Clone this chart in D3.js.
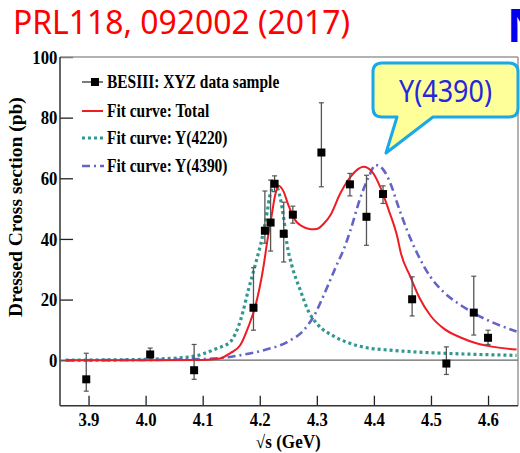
<!DOCTYPE html>
<html><head><meta charset="utf-8">
<script src="https://cdn.jsdelivr.net/npm/d3@7"></script>
<style>
html,body{margin:0;padding:0;background:#fff;overflow:hidden;}
svg{display:block;}
</style></head>
<body>
<svg id="chart" width="520" height="453"></svg>
<script>
// ---- data ----
const energy  = [3.896, 4.008, 4.085, 4.189, 4.209, 4.219, 4.226, 4.242, 4.258, 4.308, 4.358, 4.387, 4.416, 4.467, 4.527, 4.575, 4.600];
const xsec    = [-6.3, 1.9, -3.3, 17.3, 42.7, 45.4, 58.2, 41.7, 48.0, 68.5, 58.0, 47.3, 54.8, 20.1, -1.1, 15.7, 7.4];
const errHigh = [8.6, 2.1, 8.5, 13.2, 13.1, 14.0, 2.6, 10.4, 2.8, 16.4, 3.6, 13.7, 2.7, 7.4, 5.5, 12.0, 2.5];
const errLow  = [3.9, 1.2, 3.0, 7.4, 4.1, 9.4, 2.6, 9.3, 2.8, 11.3, 3.8, 9.4, 3.1, 5.5, 3.6, 7.4, 2.2];

const totalE = [3.86, 4.0, 4.1, 4.13, 4.148, 4.166, 4.18, 4.192, 4.207, 4.213, 4.221, 4.227, 4.233, 4.242, 4.25, 4.262, 4.274, 4.289, 4.300, 4.312, 4.324, 4.341, 4.359, 4.382, 4.397, 4.411, 4.426, 4.441, 4.447, 4.464, 4.48, 4.5, 4.522, 4.552, 4.581, 4.61, 4.65];
const totalV = [0, 0, 0.1, 0.6, 2.3, 5.0, 11.0, 17.6, 31.4, 39.0, 47.9, 54.5, 57.5, 55.5, 51.2, 46.2, 44.2, 43.2, 43.3, 45.0, 47.9, 55.0, 60.5, 63.8, 62.1, 57.2, 49.5, 40.7, 35.5, 27.5, 20.5, 14.5, 10.5, 7.5, 5.5, 4.4, 3.5];

const y4220E = [3.86, 4.0, 4.078, 4.125, 4.148, 4.166, 4.18, 4.192, 4.204, 4.213, 4.218, 4.227, 4.236, 4.242, 4.248, 4.256, 4.271, 4.286, 4.3, 4.33, 4.359, 4.388, 4.429, 4.476, 4.55, 4.65];
const y4220V = [0, 0.3, 1.1, 3.9, 6.0, 13.0, 23.1, 31.4, 40.2, 48.9, 54.5, 57.8, 53.4, 46.8, 38.0, 31.4, 23.1, 15.9, 12.1, 7.9, 5.5, 4.1, 3.3, 2.7, 2.1, 1.6];

const y4390E = [3.86, 4.0, 4.1, 4.137, 4.166, 4.207, 4.248, 4.277, 4.294, 4.318, 4.335, 4.347, 4.359, 4.376, 4.391, 4.403, 4.417, 4.429, 4.443, 4.458, 4.476, 4.499, 4.522, 4.552, 4.581, 4.61, 4.65];
const y4390V = [0, 0.1, 0.4, 0.8, 1.65, 3.3, 6.0, 9.9, 14.3, 24.0, 31.5, 36.5, 42.9, 53.4, 60.5, 64.4, 62.7, 58.3, 50.6, 42.9, 35.2, 27.5, 22.5, 18.2, 14.9, 12.3, 9.5];

const xTicks = [3.9, 4.0, 4.1, 4.2, 4.3, 4.4, 4.5, 4.6];
const yTicks = [0, 20, 40, 60, 80, 100];
const legendLabels = ["BESIII: XYZ data sample", "Fit curve: Total", "Fit curve: Y(4220)", "Fit curve: Y(4390)"];
const titleText = "PRL118, 092002 (2017)";
const calloutText = "Y(4390)";

// ---- drawing ----
const svg = d3.select("#chart");
const x = d3.scaleLinear().domain([3.85, 4.6525]).range([60, 518]);
const y = d3.scaleLinear().domain([-15, 100]).range([405.7, 57]);
const serif = "'Liberation Serif','Times New Roman',serif";
const SX = 0.88;

const colRed = "#ee1c24", colTeal = "#30988f", colBlue = "#6363c8";

// title
svg.append("text").attr("x", 13).attr("y", 34)
  .attr("font-family", "'Noto Sans','Open Sans',sans-serif").attr("font-size", 33)
  .attr("fill", "#ff0000").attr("textLength", 337).attr("lengthAdjust", "spacingAndGlyphs")
  .text(titleText);
svg.append("text").attr("x", 507).attr("y", 42)
  .attr("font-family", "'Noto Sans',sans-serif").attr("font-size", 46).attr("font-weight", "bold")
  .attr("fill", "#0000ee").text("N");

// minor ticks
const xMinor = d3.range(3.86, 4.65, 0.02).filter(v => xTicks.every(t => Math.abs(t - v) > 1e-6));
const yMinor = d3.range(-15, 100.1, 5).filter(v => yTicks.every(t => Math.abs(t - v) > 1e-6));

const gx = svg.append("g").attr("transform", `translate(0,${y(-15)})`);
gx.call(d3.axisBottom(x).tickValues(xMinor).tickSize(-5).tickFormat(""));
gx.call(d3.axisBottom(x).tickValues(xTicks).tickSize(-10).tickPadding(7).tickFormat(d3.format(".1f")));
gx.selectAll(".domain").remove();
gx.selectAll("line").attr("stroke", "#222").attr("stroke-width", 1.3);
gx.selectAll("text").attr("font-family", serif).attr("font-weight", "bold").attr("font-size", 19)
  .attr("fill", "#000").attr("transform", `scale(${SX},1)`);

const gy = svg.append("g").attr("transform", `translate(${x(3.85)},0)`);
gy.call(d3.axisLeft(y).tickValues(yMinor).tickSize(-7).tickFormat(""));
gy.call(d3.axisLeft(y).tickValues(yTicks).tickSize(-13).tickPadding(3).tickFormat(d3.format("d")));
gy.selectAll(".domain").remove();
gy.selectAll("line").attr("stroke", "#222").attr("stroke-width", 1.3);
gy.selectAll("text").attr("font-family", serif).attr("font-weight", "bold").attr("font-size", 19)
  .attr("fill", "#000").attr("transform", `scale(${SX},1)`);

// frame
const X0 = x.range()[0], X1 = x.range()[1], Y0 = y.range()[0], Y1 = y.range()[1];
svg.append("line").attr("x1", X0).attr("x2", X1).attr("y1", Y1).attr("y2", Y1).attr("stroke", "#999").attr("stroke-width", 1.5);
svg.append("line").attr("x1", X1).attr("x2", X1).attr("y1", Y1).attr("y2", Y0).attr("stroke", "#999").attr("stroke-width", 1.5);
svg.append("line").attr("x1", X0).attr("x2", X0).attr("y1", Y1).attr("y2", Y0).attr("stroke", "#333").attr("stroke-width", 1.5);
svg.append("line").attr("x1", X0).attr("x2", X1).attr("y1", Y0).attr("y2", Y0).attr("stroke", "#333").attr("stroke-width", 1.5);
// zero line
svg.append("line").attr("x1", X0).attr("x2", X1).attr("y1", y(0)).attr("y2", y(0)).attr("stroke", "#666").attr("stroke-width", 1.3);

// axis titles
svg.append("text").attr("transform", `translate(${(x(4.2) + x(4.3)) / 2},448) scale(0.95,1)`)
  .attr("text-anchor", "middle").attr("font-family", serif).attr("font-weight", "bold").attr("font-size", 18)
  .text("√s (GeV)");
svg.append("text").attr("transform", "translate(22,207) rotate(-90)")
  .attr("text-anchor", "middle").attr("font-family", serif).attr("font-weight", "bold").attr("font-size", 19.5)
  .text("Dressed Cross section (pb)");

// curves
const line = d3.line().x(d => x(d[0])).y(d => y(d[1])).curve(d3.curveMonotoneX);
const plot = svg.append("g");
plot.append("path").datum(d3.zip(y4220E, y4220V)).attr("d", line)
  .attr("fill", "none").attr("stroke", colTeal).attr("stroke-width", 3.2).attr("stroke-dasharray", "3,3");
plot.append("path").datum(d3.zip(y4390E, y4390V)).attr("d", line)
  .attr("fill", "none").attr("stroke", colBlue).attr("stroke-width", 2.6).attr("stroke-dasharray", "8,4,2,4");
plot.append("path").datum(d3.zip(totalE, totalV)).attr("d", line)
  .attr("fill", "none").attr("stroke", colRed).attr("stroke-width", 2);

// data points with error bars
const pts = energy.map((e, i) => ({e, v: xsec[i], hi: xsec[i] + errHigh[i], lo: xsec[i] - errLow[i]}));
const pg = plot.selectAll("g.pt").data(pts).join("g").attr("class", "pt");
pg.append("line").attr("x1", d => x(d.e)).attr("x2", d => x(d.e)).attr("y1", d => y(d.hi)).attr("y2", d => y(d.lo))
  .attr("stroke", "#555").attr("stroke-width", 1.3);
pg.append("line").attr("x1", d => x(d.e) - 2.5).attr("x2", d => x(d.e) + 2.5).attr("y1", d => y(d.hi)).attr("y2", d => y(d.hi))
  .attr("stroke", "#555").attr("stroke-width", 1.2);
pg.append("line").attr("x1", d => x(d.e) - 2.5).attr("x2", d => x(d.e) + 2.5).attr("y1", d => y(d.lo)).attr("y2", d => y(d.lo))
  .attr("stroke", "#555").attr("stroke-width", 1.2);
pg.append("rect").attr("x", d => x(d.e) - 4).attr("y", d => y(d.v) - 4).attr("width", 8).attr("height", 8).attr("fill", "#000");

// legend
const legY = [82, 111, 138, 166];
const lg = svg.append("g");
legendLabels.forEach((lab, i) => {
  const cy = legY[i];
  if (i === 0) {
    lg.append("line").attr("x1", 82).attr("x2", 103).attr("y1", cy).attr("y2", cy).attr("stroke", "#333").attr("stroke-width", 1.3);
    lg.append("rect").attr("x", 91).attr("y", cy - 4).attr("width", 8).attr("height", 8).attr("fill", "#000");
  } else if (i === 1) {
    lg.append("line").attr("x1", 82).attr("x2", 103).attr("y1", cy).attr("y2", cy).attr("stroke", colRed).attr("stroke-width", 2);
  } else if (i === 2) {
    lg.append("line").attr("x1", 82).attr("x2", 104).attr("y1", cy).attr("y2", cy).attr("stroke", colTeal).attr("stroke-width", 3.2).attr("stroke-dasharray", "3,3");
  } else {
    lg.append("line").attr("x1", 82).attr("x2", 104).attr("y1", cy).attr("y2", cy).attr("stroke", colBlue).attr("stroke-width", 2.6).attr("stroke-dasharray", "8,4,2,4");
  }
  lg.append("text").attr("transform", `translate(107,${cy + 6}) scale(0.86,1)`)
    .attr("font-family", serif).attr("font-weight", "bold").attr("font-size", 18).text(lab);
});

// callout
const bx0 = 373, bx1 = 518, by0 = 63, by1 = 117, r = 9;
const callout = `M${bx0 + r},${by0} L${bx1 - r},${by0} Q${bx1},${by0} ${bx1},${by0 + r} L${bx1},${by1 - r} Q${bx1},${by1} ${bx1 - r},${by1}
 L433,${by1} L386,153 L397,${by1} L${bx0 + r},${by1} Q${bx0},${by1} ${bx0},${by1 - r} L${bx0},${by0 + r} Q${bx0},${by0} ${bx0 + r},${by0} Z`;
svg.append("path").attr("d", callout).attr("fill", "#ffff99").attr("stroke", "#1aa8e6").attr("stroke-width", 3).attr("stroke-linejoin", "round");
svg.append("text").attr("x", 399).attr("y", 102)
  .attr("font-family", "'Noto Sans','Open Sans',sans-serif").attr("font-size", 30)
  .attr("fill", "#2626dc").attr("textLength", 93).attr("lengthAdjust", "spacingAndGlyphs")
  .text(calloutText);
</script>
</body></html>
